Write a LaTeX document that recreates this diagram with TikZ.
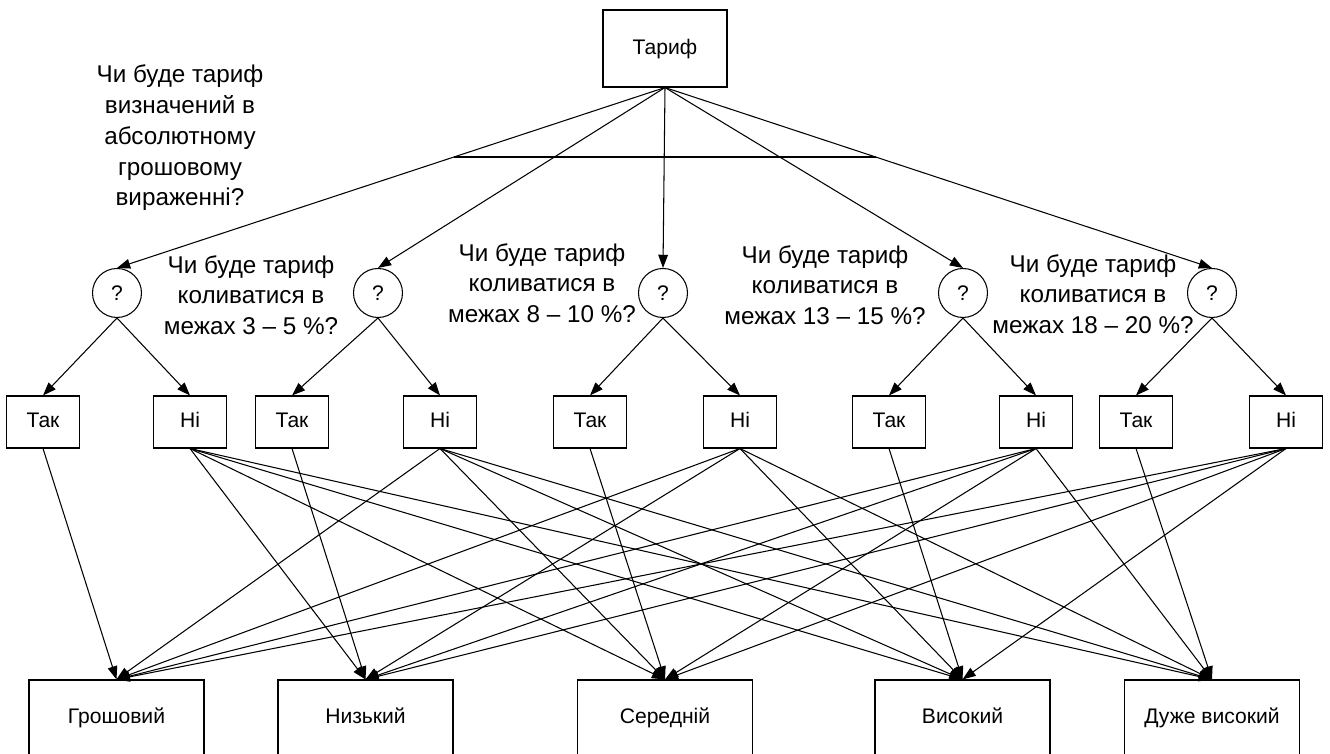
\documentclass[tikz,border=0pt]{standalone}
\usepackage{fontspec}
\setmainfont{Liberation Sans}
\usetikzlibrary{arrows.meta,calc}

\begin{document}
\begin{tikzpicture} [
        square/.style={draw, rectangle, minimum width=1.46cm, minimum height=1.04cm,
            text height=1.6ex, text depth=0.4ex},
        bigsquare/.style={draw, rectangle, minimum width=3.5cm, minimum height=1.52cm,
            text height=1.6ex, text depth=0.4ex},
        quest/.style={draw, circle, minimum size=0.98cm, inner sep=0pt},
        ask/.style={align=center, font=\fontsize{13.8}{17.5}\selectfont},
        font=\fontsize{12}{14}\selectfont,
        line width=0.6pt,
        >={Triangle[length=7.5pt,width=5.5pt]} ]
    \useasboundingbox (0,0) rectangle (26.6,15.08);
    \clip (0,0) rectangle (26.6,15.08);

    \node[square, minimum width=2.48cm, minimum height=1.54cm] (t0) at (13.3,14.11) {Тариф};

    % questions
    \node[quest] (q1) at (2.34,9.22)  {?};
    \node[quest] (q2) at (7.56,9.22)  {?};
    \node[quest] (q3) at (13.26,9.22) {?};
    \node[quest] (q4) at (19.26,9.22) {?};
    \node[quest] (q5) at (24.24,9.22) {?};

    \node[ask] (a0) at (3.6,12.32)  {Чи буде тариф\\визначений в\\абсолютному\\грошовому\\вираженні?};
    \node[ask] (a1) at (5.02,9.18)  {Чи буде тариф\\коливатися в\\межах 3 – 5 \%?};
    \node[ask] (a2) at (10.84,9.42) {Чи буде тариф\\коливатися в\\межах 8 – 10 \%?};
    \node[ask] (a3) at (16.5,9.38)  {Чи буде тариф\\коливатися в\\межах 13 – 15 \%?};
    \node[ask] (a4) at (21.86,9.2)  {Чи буде тариф\\коливатися в\\межах 18 – 20 \%?};

    % answers
    \node[square] (y1) at (0.86,6.64)  {Так};
    \node[square] (n1) at (3.8,6.64)   {Ні};
    \node[square] (y2) at (5.84,6.64)  {Так};
    \node[square] (n2) at (8.8,6.64)   {Ні};
    \node[square] (y3) at (11.8,6.64)  {Так};
    \node[square] (n3) at (14.8,6.64)  {Ні};
    \node[square] (y4) at (17.78,6.64) {Так};
    \node[square] (n4) at (20.72,6.64) {Ні};
    \node[square] (y5) at (22.72,6.64) {Так};
    \node[square] (n5) at (25.72,6.64) {Ні};

    % tariff levels
    \node[bigsquare] (r1) at (2.33,0.72)  {Грошовий};
    \node[bigsquare] (r2) at (7.31,0.72)  {Низький};
    \node[bigsquare] (r3) at (13.3,0.72)  {Середній};
    \node[bigsquare] (r4) at (19.25,0.72) {Високий};
    \node[bigsquare] (r5) at (24.24,0.72) {Дуже високий};

    \draw (t0.south) edge[->] (q1.north) edge[->] (q2.north) edge[->] (q3.north)
        edge[->] (q4.north) edge[->] (q5.north);
    \draw ($(t0.south)!0.385!(q1.north)$) -- ($(t0.south)!0.385!(q5.north)$);

    \draw (q1.south) edge[->] (y1.north) edge[->] (n1.north);
    \draw (q2.south) edge[->] (y2.north) edge[->] (n2.north);
    \draw (q3.south) edge[->] (y3.north) edge[->] (n3.north);
    \draw (q4.south) edge[->] (y4.north) edge[->] (n4.north);
    \draw (q5.south) edge[->] (y5.north) edge[->] (n5.north);

    \draw (y1.south) edge[->] (r1.north);
    \draw (y2.south) edge[->] (r2.north);
    \draw (y3.south) edge[->] (r3.north);
    \draw (y4.south) edge[->] (r4.north);
    \draw (y5.south) edge[->] (r5.north);

    \draw (n1.south) edge[->] (r2.north) edge[->] (r3.north) edge[->] (r4.north) edge[->] (r5.north);
    \draw (n2.south) edge[->] (r1.north) edge[->] (r3.north) edge[->] (r4.north) edge[->] (r5.north);
    \draw (n3.south) edge[->] (r1.north) edge[->] (r2.north) edge[->] (r4.north) edge[->] (r5.north);
    \draw (n4.south) edge[->] (r1.north) edge[->] (r2.north) edge[->] (r3.north) edge[->] (r5.north);
    \draw (n5.south) edge[->] (r1.north) edge[->] (r2.north) edge[->] (r3.north) edge[->] (r4.north);
\end{tikzpicture}
\end{document}
